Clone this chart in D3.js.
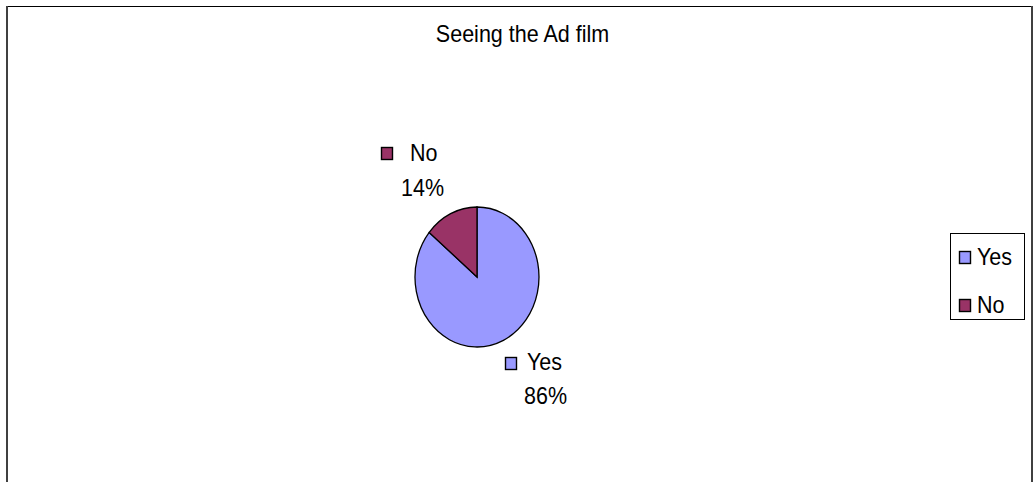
<!DOCTYPE html>
<html>
<head>
<meta charset="utf-8">
<script src="https://cdn.jsdelivr.net/npm/d3@7"></script>
<style>
  html, body { margin: 0; padding: 0; background: #fff; }
  svg { display: block; font-family: "Liberation Sans", Arial, sans-serif; }
</style>
</head>
<body>
<svg id="chart" width="1034" height="482"></svg>
<script>
// Survey answers for "Seeing the Ad film"
const categories = ["Yes", "No"];
const shares = [86, 14];
const colors = ["#9999FF", "#993366"];
const title = "Seeing the Ad film";

const svg = d3.select("#chart");
const fontSize = 21.5;
const stretchY = 1.1; // text is slightly taller than wide, like the elliptical pie

// Text placed at (x, baseline y), stretched vertically around its baseline
function label(x, y, str, anchor) {
  return svg.append("text")
    .attr("transform", `translate(${x},${y}) scale(1,${stretchY})`)
    .attr("text-anchor", anchor || "start")
    .attr("font-size", fontSize).attr("fill", "#000").text(str);
}

// Chart frame
svg.append("line").attr("x1", 6).attr("x2", 1032).attr("y1", 6.5).attr("y2", 6.5)
  .attr("stroke", "#000").attr("stroke-width", 1);
svg.append("line").attr("x1", 7).attr("x2", 7).attr("y1", 6).attr("y2", 482)
  .attr("stroke", "#404040").attr("stroke-width", 2);
svg.append("line").attr("x1", 1032).attr("x2", 1032).attr("y1", 6).attr("y2", 482)
  .attr("stroke", "#404040").attr("stroke-width", 2);

label(522.5, 42, title, "middle");

// Pie (drawn on a unit circle, then stretched into an ellipse)
const cx = 477, cy = 277, rx = 62, ry = 70;
const data = categories.map((c, i) => ({ cat: c, value: shares[i], color: colors[i] }));
const pie = d3.pie().value(d => d.value).sort(null);
const arcs = pie(data);
const arc = d3.arc().innerRadius(0).outerRadius(1);

const pg = svg.append("g").attr("transform", `translate(${cx},${cy}) scale(${rx},${ry})`);
pg.selectAll("path").data(arcs).join("path")
  .attr("d", arc)
  .attr("fill", d => d.data.color)
  .attr("stroke", "#000")
  .attr("stroke-width", 1.3)
  .attr("vector-effect", "non-scaling-stroke");

// Data labels: legend key + category, percentage below
const labelPos = {
  Yes: { key: [505, 357], name: [527, 370], pct: [545.5, 404] },
  No: { key: [381, 147], name: [410, 161], pct: [422.5, 196] }
};
arcs.forEach(a => {
  const p = labelPos[a.data.cat];
  svg.append("rect").attr("x", p.key[0] + 0.5).attr("y", p.key[1] + 0.5)
    .attr("width", 11).attr("height", 12)
    .attr("fill", a.data.color).attr("stroke", "#000").attr("stroke-width", 1.4);
  label(p.name[0], p.name[1], a.data.cat);
  label(p.pct[0], p.pct[1], Math.round(a.data.value / d3.sum(shares) * 100) + "%", "middle");
});

// Legend
svg.append("rect").attr("x", 950.5).attr("y", 233.5).attr("width", 74).attr("height", 86)
  .attr("fill", "#fff").attr("stroke", "#000").attr("stroke-width", 1);
const ly = d3.scalePoint().domain(categories).range([251, 299]);
categories.forEach((c, i) => {
  svg.append("rect").attr("x", 959.5).attr("y", ly(c) + 0.5).attr("width", 11).attr("height", 12)
    .attr("fill", colors[i]).attr("stroke", "#000").attr("stroke-width", 1.4);
  label(977, ly(c) + 13.5, c);
});
</script>
</body>
</html>
